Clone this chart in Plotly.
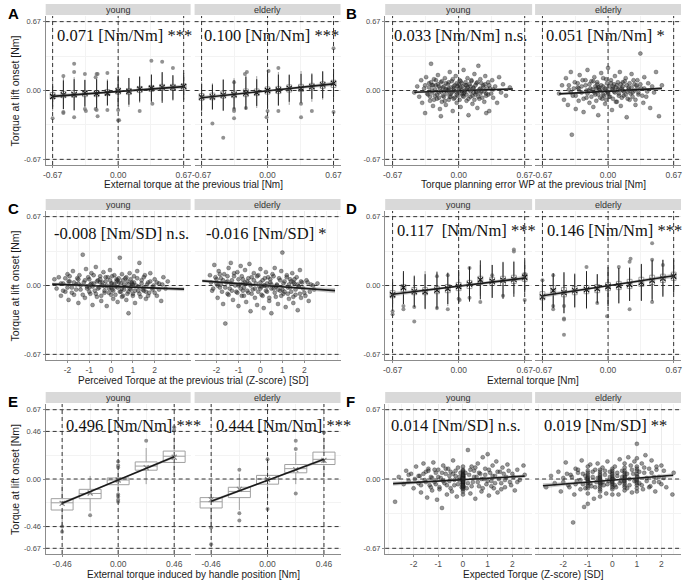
import plotly.graph_objects as go

W, H = 685, 581

# ------------------------------------------------------------------ data
bins13 = [-0.67, -0.56, -0.45, -0.34, -0.22, -0.11, 0.0, 0.11, 0.22, 0.34, 0.45, 0.56, 0.67]
bins5 = [-0.46, -0.23, 0.0, 0.23, 0.46]

# Panel A (previous external torque)
A_y_mean = [-0.058, -0.042, -0.040, -0.026, -0.030, -0.024, -0.004, -0.008, 0.013, 0.022, 0.030, 0.030, 0.040]
A_y_sd = [0.10, 0.14, 0.15, 0.13, 0.14, 0.12, 0.15, 0.13, 0.12, 0.13, 0.15, 0.12, 0.13]
A_y_med = [-0.050, -0.040, -0.035, -0.030, -0.030, -0.020, -0.005, -0.010, 0.010, 0.020, 0.030, 0.030, 0.035]
A_y_q1 = [-0.080, -0.070, -0.065, -0.060, -0.060, -0.050, -0.035, -0.040, -0.020, -0.010, 0.000, 0.000, 0.005]
A_y_q3 = [-0.020, -0.010, 0.000, 0.000, 0.000, 0.010, 0.025, 0.020, 0.040, 0.050, 0.060, 0.060, 0.065]
A_y_lo = [-0.20, -0.18, -0.20, -0.16, -0.17, -0.15, -0.15, -0.16, -0.12, -0.12, -0.10, -0.10, -0.08]
A_y_hi = [0.10, 0.13, 0.13, 0.10, 0.12, 0.11, 0.14, 0.12, 0.14, 0.16, 0.17, 0.14, 0.15]
A_y_out = [(-0.67, -0.27), (-0.56, 0.14), (-0.56, -0.21), (-0.56, -0.22), (-0.45, 0.26), (-0.45, 0.18),
           (-0.45, -0.26), (-0.34, 0.16), (-0.34, -0.18), (-0.33, -0.20), (-0.23, 0.13), (-0.22, 0.16),
           (-0.21, 0.16), (-0.23, -0.18), (-0.22, -0.19), (-0.21, -0.25), (-0.11, 0.17), (-0.11, -0.19),
           (0.0, -0.29), (0.01, -0.29), (0.0, -0.19), (0.22, -0.20), (0.34, 0.29), (0.35, -0.13),
           (0.45, 0.28), (0.56, 0.22)]
A_y_line = [-0.057, 0.038]

A_e_mean = [-0.065, -0.062, -0.045, -0.040, -0.025, -0.020, 0.000, 0.005, 0.020, 0.022, 0.038, 0.055, 0.070]
A_e_sd = [0.13, 0.12, 0.15, 0.14, 0.16, 0.13, 0.17, 0.15, 0.13, 0.14, 0.12, 0.13, 0.14]
A_e_med = [-0.060, -0.055, -0.040, -0.035, -0.020, -0.015, 0.000, 0.005, 0.020, 0.025, 0.035, 0.050, 0.065]
A_e_q1 = [-0.095, -0.090, -0.075, -0.070, -0.060, -0.050, -0.035, -0.030, -0.015, -0.010, 0.005, 0.020, 0.030]
A_e_q3 = [-0.030, -0.025, -0.005, -0.005, 0.015, 0.015, 0.035, 0.040, 0.055, 0.060, 0.070, 0.085, 0.100]
A_e_lo = [-0.21, -0.19, -0.20, -0.19, -0.18, -0.17, -0.17, -0.15, -0.14, -0.13, -0.11, -0.09, -0.08]
A_e_hi = [0.08, 0.07, 0.11, 0.12, 0.15, 0.14, 0.17, 0.18, 0.16, 0.19, 0.17, 0.19, 0.20]
A_e_out = [(-0.56, -0.32), (-0.45, -0.46), (-0.34, 0.08), (-0.34, -0.18), (-0.34, -0.20), (-0.34, -0.27),
           (-0.23, 0.16), (-0.21, 0.18), (-0.22, -0.17), (0.01, 0.19), (0.0, -0.20), (-0.01, -0.26),
           (0.11, 0.22), (0.11, -0.20), (0.34, -0.13), (0.34, -0.26), (0.45, -0.20), (0.67, 0.41),
           (0.67, -0.21)]
A_e_line = [-0.070, 0.064]

# Panel D (current external torque)
D_y_mean = [-0.090, -0.020, -0.060, -0.060, -0.045, -0.030, -0.010, 0.013, 0.055, 0.040, 0.050, 0.060, 0.080]
D_y_sd = [0.12, 0.16, 0.15, 0.17, 0.18, 0.15, 0.16, 0.17, 0.19, 0.16, 0.18, 0.17, 0.15]
D_y_med = [-0.085, -0.025, -0.055, -0.055, -0.045, -0.030, -0.010, 0.010, 0.050, 0.040, 0.045, 0.060, 0.075]
D_y_q1 = [-0.12, -0.06, -0.09, -0.09, -0.08, -0.07, -0.05, -0.03, 0.01, 0.00, 0.00, 0.02, 0.04]
D_y_q3 = [-0.05, 0.01, -0.02, -0.02, -0.01, 0.01, 0.03, 0.05, 0.09, 0.08, 0.09, 0.10, 0.12]
D_y_lo = [-0.22, -0.18, -0.20, -0.22, -0.24, -0.20, -0.17, -0.12, -0.10, -0.12, -0.10, -0.08, -0.06]
D_y_hi = [0.05, 0.12, 0.10, 0.14, 0.12, 0.13, 0.15, 0.16, 0.20, 0.20, 0.22, 0.24, 0.25]
D_y_out = [(-0.67, -0.25), (-0.67, -0.28), (-0.56, -0.20), (-0.56, -0.23), (-0.45, -0.35), (-0.45, -0.21),
           (-0.22, -0.22), (-0.22, 0.09), (-0.11, -0.23), (-0.11, 0.10), (0.0, -0.13), (0.01, -0.14),
           (0.11, 0.17), (0.11, -0.12), (0.22, -0.16), (0.34, 0.10), (0.45, -0.10), (0.56, 0.35),
           (0.56, 0.33), (0.67, -0.14), (0.67, 0.11)]
D_y_line = [-0.085, 0.072]

D_e_mean = [-0.110, -0.050, -0.070, -0.050, -0.040, -0.030, -0.010, 0.000, 0.010, 0.030, 0.050, 0.070, 0.090]
D_e_sd = [0.13, 0.17, 0.20, 0.16, 0.18, 0.14, 0.19, 0.17, 0.16, 0.18, 0.20, 0.18, 0.16]
D_e_med = [-0.100, -0.045, -0.065, -0.050, -0.040, -0.030, -0.010, 0.000, 0.015, 0.030, 0.050, 0.070, 0.090]
D_e_q1 = [-0.14, -0.09, -0.11, -0.09, -0.08, -0.07, -0.05, -0.04, -0.03, -0.01, 0.01, 0.03, 0.05]
D_e_q3 = [-0.06, 0.00, -0.02, -0.01, 0.00, 0.01, 0.03, 0.04, 0.06, 0.08, 0.10, 0.11, 0.13]
D_e_lo = [-0.25, -0.22, -0.27, -0.22, -0.23, -0.18, -0.22, -0.18, -0.15, -0.14, -0.13, -0.10, -0.07]
D_e_hi = [0.03, 0.10, 0.12, 0.12, 0.13, 0.11, 0.16, 0.17, 0.18, 0.20, 0.24, 0.25, 0.26]
D_e_out = [(-0.67, 0.05), (-0.56, -0.20), (-0.56, -0.23), (-0.56, 0.10), (-0.45, -0.32), (-0.45, -0.20),
           (-0.45, -0.48), (-0.45, -0.33), (-0.22, 0.18), (-0.11, -0.17), (-0.01, -0.30), (0.11, 0.18),
           (0.22, -0.23), (0.22, 0.23), (0.23, 0.26), (0.45, 0.41), (0.45, 0.25), (0.45, -0.16),
           (0.56, 0.20)]
D_e_line = [-0.100, 0.095]

# Panel E (handle position)
E_y_mean = [-0.235, -0.135, -0.010, 0.110, 0.210]
E_y_med = [-0.23, -0.14, -0.01, 0.125, 0.22]
E_y_q1 = [-0.30, -0.19, -0.055, 0.085, 0.16]
E_y_q3 = [-0.19, -0.10, 0.01, 0.165, 0.27]
E_y_lo = [-0.44, -0.31, -0.13, -0.05, 0.04]
E_y_hi = [-0.06, 0.03, 0.10, 0.30, 0.40]
E_y_out = [(-0.46, -0.46), (-0.46, -0.51), (-0.23, -0.35), (0.0, 0.17), (0.0, 0.13), (0.0, 0.11),
           (0.0, -0.15), (0.0, -0.17), (0.0, -0.20), (0.0, -0.22), (0.23, 0.37), (0.46, 0.47), (0.46, 0.50)]
E_y_line = [-0.235, 0.215]

E_e_mean = [-0.200, -0.100, -0.005, 0.090, 0.180]
E_e_med = [-0.22, -0.12, 0.0, 0.10, 0.19]
E_e_q1 = [-0.28, -0.18, -0.05, 0.06, 0.14]
E_e_q3 = [-0.18, -0.08, 0.035, 0.14, 0.26]
E_e_lo = [-0.44, -0.30, -0.20, -0.05, 0.03]
E_e_hi = [-0.06, 0.05, 0.17, 0.26, 0.40]
E_e_out = [(-0.46, -0.47), (-0.46, -0.63), (-0.23, 0.09), (-0.23, -0.33), (-0.23, -0.40), (0.0, 0.19),
           (0.0, -0.29), (0.23, 0.29), (0.23, 0.37), (0.23, -0.14), (0.46, 0.45)]
E_e_line = [-0.215, 0.190]

# Panel B (torque planning error at previous trial) - clouds: spread + dense core
B_y_pts = [(-0.45, -0.02), (-0.42, 0.04), (-0.40, -0.06), (-0.38, 0.10), (-0.37, -0.12), (-0.35, 0.02),
           (-0.34, -0.22), (-0.33, 0.13), (-0.31, -0.04), (-0.30, 0.07), (-0.29, -0.10), (-0.28, 0.26),
           (-0.27, 0.00), (-0.26, -0.15), (-0.25, 0.11), (-0.24, -0.05), (-0.23, 0.05), (-0.22, -0.08),
           (-0.21, 0.15), (-0.20, -0.02), (-0.19, -0.18), (-0.18, 0.08), (-0.17, -0.11), (-0.16, 0.03),
           (-0.15, -0.06), (-0.14, 0.12), (-0.13, -0.14), (-0.12, 0.01), (-0.11, 0.06), (-0.10, -0.09),
           (-0.09, 0.18), (-0.08, -0.03), (-0.07, 0.09), (-0.06, -0.20), (-0.05, 0.02), (-0.04, -0.07),
           (-0.03, 0.14), (-0.02, -0.12), (-0.01, 0.04), (0.00, -0.01), (0.01, 0.10), (0.02, -0.16),
           (0.03, 0.07), (0.04, -0.05), (0.05, 0.20), (0.06, -0.02), (0.07, 0.05), (0.08, -0.10),
           (0.09, 0.12), (0.10, -0.24), (0.11, 0.01), (0.12, -0.06), (0.13, 0.09), (0.14, -0.13),
           (0.15, 0.03), (0.16, 0.16), (0.17, -0.04), (0.18, 0.07), (0.19, -0.17), (0.20, 0.24),
           (0.21, -0.08), (0.22, 0.11), (0.23, -0.01), (0.25, 0.05), (0.26, -0.11), (0.27, 0.14),
           (0.28, -0.03), (0.30, 0.08), (0.31, -0.20), (0.32, 0.02), (0.34, 0.10), (0.35, -0.07),
           (0.37, 0.04), (0.39, -0.12), (0.41, 0.13), (0.43, -0.02), (0.45, 0.06), (0.48, -0.05),
           (0.52, 0.03), (-0.05, 0.00), (0.02, 0.03), (-0.10, 0.02), (0.05, -0.03), (0.12, 0.04),
           (-0.15, -0.01), (0.00, 0.06), (-0.02, -0.04), (0.08, 0.01), (-0.20, 0.04), (0.18, -0.01),
           (-0.08, -0.06), (0.22, 0.02), (-0.27, 0.05), (0.30, -0.04), (-0.18, -0.25), (0.28, -0.22)]
B_y_core = [(-0.30, 0.03), (-0.29, -0.06), (-0.28, 0.08), (-0.27, -0.02), (-0.26, 0.05), (-0.25, -0.09),
            (-0.24, 0.01), (-0.23, 0.10), (-0.22, -0.04), (-0.21, 0.06), (-0.20, -0.07), (-0.19, 0.02),
            (-0.18, -0.01), (-0.17, 0.09), (-0.16, -0.05), (-0.15, 0.04), (-0.14, -0.10), (-0.13, 0.07),
            (-0.12, -0.03), (-0.11, 0.00), (-0.10, 0.08), (-0.09, -0.06), (-0.08, 0.03), (-0.07, -0.02),
            (-0.06, 0.11), (-0.05, -0.08), (-0.04, 0.05), (-0.03, -0.01), (-0.02, 0.07), (-0.01, -0.05),
            (0.00, 0.02), (0.01, -0.09), (0.02, 0.09), (0.03, -0.03), (0.04, 0.04), (0.05, -0.06),
            (0.06, 0.00), (0.07, 0.08), (0.08, -0.04), (0.09, 0.03), (0.10, -0.08), (0.11, 0.06),
            (0.12, -0.01), (0.13, 0.10), (0.14, -0.05), (0.15, 0.02), (0.16, -0.09), (0.17, 0.05),
            (0.18, -0.02), (0.19, 0.08), (0.20, -0.06), (0.21, 0.01), (0.22, -0.03), (0.23, 0.07),
            (0.24, -0.07), (0.25, 0.03), (0.26, -0.01), (0.27, 0.06), (0.28, -0.05), (0.29, 0.02),
            (0.31, 0.05), (0.33, -0.03), (0.35, 0.01), (-0.32, -0.03), (-0.34, 0.05), (-0.05, 0.04),
            (0.03, 0.00), (-0.13, 0.01), (0.15, -0.02), (0.08, 0.05)]
B_y_line_x = [-0.45, 0.55]
B_y_line = [-0.017, 0.015]

B_e_pts = [(-0.50, -0.03), (-0.47, 0.05), (-0.45, -0.09), (-0.43, 0.12), (-0.41, -0.14), (-0.40, 0.01),
           (-0.38, 0.18), (-0.37, -0.43), (-0.36, -0.05), (-0.34, 0.08), (-0.33, -0.18), (-0.31, 0.03),
           (-0.30, -0.10), (-0.29, 0.15), (-0.27, -0.02), (-0.26, 0.10), (-0.25, -0.21), (-0.23, 0.05),
           (-0.22, -0.07), (-0.21, 0.20), (-0.19, -0.12), (-0.18, 0.02), (-0.17, 0.09), (-0.15, -0.16),
           (-0.14, 0.13), (-0.13, -0.04), (-0.11, 0.06), (-0.10, -0.24), (-0.09, 0.01), (-0.07, 0.17),
           (-0.06, -0.08), (-0.05, 0.04), (-0.03, -0.13), (-0.02, 0.11), (-0.01, -0.01), (0.00, 0.22),
           (0.01, -0.06), (0.03, 0.07), (0.04, -0.19), (0.05, 0.02), (0.07, 0.14), (0.08, -0.11),
           (0.09, 0.05), (0.11, -0.03), (0.12, 0.18), (0.13, -0.15), (0.15, 0.08), (0.16, -0.05),
           (0.18, 0.12), (0.19, -0.26), (0.21, 0.03), (0.22, -0.09), (0.24, 0.16), (0.25, -0.02),
           (0.27, 0.06), (0.28, -0.14), (0.30, 0.10), (0.31, -0.04), (0.33, 0.36), (0.34, 0.02),
           (0.36, -0.12), (0.37, 0.13), (0.39, -0.06), (0.41, 0.07), (0.43, -0.17), (0.45, 0.04),
           (0.47, -0.02), (0.49, 0.18), (0.52, -0.25), (0.55, 0.05), (-0.20, 0.00), (-0.10, 0.03),
           (0.00, -0.02), (0.10, 0.01), (0.20, -0.01), (0.30, 0.03), (-0.30, 0.02), (0.05, 0.04),
           (-0.05, -0.04), (0.15, 0.00)]
B_e_core = [(-0.35, 0.02), (-0.33, -0.05), (-0.31, 0.07), (-0.29, -0.01), (-0.27, 0.04), (-0.25, -0.08),
            (-0.23, 0.10), (-0.21, -0.03), (-0.19, 0.06), (-0.17, -0.06), (-0.16, 0.01), (-0.15, 0.09),
            (-0.14, -0.02), (-0.13, 0.04), (-0.12, -0.10), (-0.11, 0.08), (-0.10, -0.04), (-0.09, 0.03),
            (-0.08, -0.07), (-0.07, 0.05), (-0.06, 0.00), (-0.05, 0.12), (-0.04, -0.05), (-0.03, 0.02),
            (-0.02, -0.09), (-0.01, 0.07), (0.00, -0.03), (0.01, 0.04), (0.02, -0.06), (0.03, 0.10),
            (0.04, 0.01), (0.05, -0.08), (0.06, 0.06), (0.07, -0.02), (0.08, 0.03), (0.09, -0.11),
            (0.10, 0.08), (0.11, -0.05), (0.12, 0.02), (0.13, 0.06), (0.14, -0.07), (0.15, 0.04),
            (0.16, -0.01), (0.17, 0.09), (0.18, -0.04), (0.19, 0.05), (0.20, -0.08), (0.21, 0.01),
            (0.22, 0.07), (0.23, -0.03), (0.24, 0.03), (0.25, -0.06), (0.26, 0.10), (0.27, 0.00),
            (0.28, -0.09), (0.29, 0.05), (0.31, -0.02), (0.33, 0.06), (0.35, -0.05), (0.37, 0.02),
            (0.40, -0.01), (-0.38, -0.02), (-0.40, 0.05), (-0.02, 0.01), (0.06, -0.01), (-0.12, 0.02),
            (0.14, 0.02), (-0.22, 0.00)]
B_e_line_x = [-0.50, 0.55]
B_e_line = [-0.033, 0.021]

# Panel C (perceived torque previous trial, z-score)
C_y_pts = [(-2.6, 0.06), (-2.5, -0.03), (-2.4, 0.08), (-2.3, -0.10), (-2.2, 0.02), (-2.1, -0.06), (-2.0, 0.11),
           (-1.95, -0.14), (-1.9, 0.04), (-1.8, -0.02), (-1.75, 0.14), (-1.7, -0.09), (-1.6, 0.01),
           (-1.55, 0.07), (-1.5, -0.17), (-1.45, 0.10), (-1.4, -0.04), (-1.3, 0.30), (-1.25, 0.03),
           (-1.2, -0.12), (-1.15, 0.16), (-1.1, -0.01), (-1.0, 0.06), (-0.95, -0.08), (-0.9, 0.12),
           (-0.85, -0.19), (-0.8, 0.02), (-0.75, -0.05), (-0.7, 0.18), (-0.65, -0.11), (-0.6, 0.05),
           (-0.55, -0.02), (-0.5, 0.09), (-0.45, -0.15), (-0.4, 0.00), (-0.35, 0.13), (-0.3, -0.07),
           (-0.25, 0.04), (-0.2, -0.20), (-0.15, 0.08), (-0.1, -0.03), (-0.05, 0.15), (0.0, -0.09),
           (0.05, 0.02), (0.1, -0.13), (0.15, 0.10), (0.2, -0.01), (0.25, 0.06), (0.3, -0.16), (0.35, 0.03),
           (0.4, 0.27), (0.45, -0.06), (0.5, 0.11), (0.55, -0.10), (0.6, 0.01), (0.65, 0.07), (0.7, -0.14),
           (0.75, 0.04), (0.8, -0.27), (0.85, 0.12), (0.9, -0.04), (0.95, 0.02), (1.0, -0.08), (1.05, 0.09),
           (1.1, -0.17), (1.15, 0.00), (1.2, 0.14), (1.25, -0.05), (1.3, 0.22), (1.35, -0.11), (1.4, 0.05),
           (1.5, -0.02), (1.55, 0.10), (1.6, -0.13), (1.7, 0.03), (1.75, -0.07), (1.8, 0.12), (1.9, -0.04),
           (2.0, 0.06), (2.1, -0.10), (2.2, 0.02), (2.3, -0.15), (2.4, 0.08), (2.5, -0.03), (2.6, 0.04),
           (-1.0, -0.02), (-0.5, 0.03), (0.0, 0.02), (0.5, -0.03), (1.0, 0.01), (-1.5, 0.02), (1.5, -0.05),
           (-0.3, -0.01), (0.3, 0.05), (0.8, -0.06)]
C_y_core = [(-2.3, 0.02), (-2.2, -0.05), (-2.1, 0.07), (-2.0, -0.02), (-1.9, 0.09), (-1.8, -0.07), (-1.7, 0.03),
            (-1.6, -0.04), (-1.5, 0.06), (-1.4, 0.00), (-1.3, -0.09), (-1.2, 0.05), (-1.1, -0.03), (-1.05, 0.08),
            (-1.0, -0.06), (-0.9, 0.02), (-0.85, -0.01), (-0.8, 0.10), (-0.7, -0.08), (-0.65, 0.04),
            (-0.6, -0.03), (-0.5, 0.06), (-0.45, -0.10), (-0.4, 0.03), (-0.3, -0.05), (-0.25, 0.08),
            (-0.2, 0.00), (-0.1, -0.07), (-0.05, 0.05), (0.0, -0.02), (0.05, 0.09), (0.1, -0.05), (0.15, 0.01),
            (0.2, -0.09), (0.25, 0.04), (0.3, -0.02), (0.35, 0.07), (0.4, -0.06), (0.45, 0.02), (0.5, -0.11),
            (0.55, 0.05), (0.6, -0.04), (0.7, 0.08), (0.75, -0.08), (0.8, 0.01), (0.85, -0.03), (0.9, 0.06),
            (1.0, -0.10), (1.05, 0.03), (1.1, -0.05), (1.2, 0.07), (1.25, -0.01), (1.3, -0.08), (1.4, 0.02),
            (1.45, -0.04), (1.5, 0.08), (1.6, -0.06), (1.65, 0.01), (1.7, -0.10), (1.8, 0.04), (1.9, -0.02),
            (2.0, -0.07), (2.1, 0.03), (2.2, -0.04), (2.35, 0.01), (-1.95, 0.04), (-0.95, 0.01), (0.05, -0.04),
            (0.95, 0.03), (1.95, 0.00)]
C_y_line_x = [-2.7, 3.35]
C_y_line = [0.013, -0.035]

C_e_pts = [(-2.3, 0.10), (-2.2, -0.05), (-2.1, 0.20), (-2.0, 0.02), (-1.95, -0.12), (-1.9, 0.14),
           (-1.85, -0.02), (-1.8, 0.07), (-1.7, -0.18), (-1.65, 0.11), (-1.6, -0.37), (-1.55, 0.03),
           (-1.5, -0.08), (-1.45, 0.17), (-1.4, -0.03), (-1.35, 0.22), (-1.3, 0.05), (-1.25, -0.14),
           (-1.2, 0.09), (-1.1, -0.06), (-1.05, 0.13), (-1.0, -0.20), (-0.95, 0.01), (-0.9, 0.19),
           (-0.85, -0.10), (-0.8, 0.06), (-0.75, -0.02), (-0.7, 0.15), (-0.65, -0.16), (-0.6, 0.04),
           (-0.55, -0.07), (-0.5, 0.21), (-0.45, -0.25), (-0.4, 0.08), (-0.35, -0.04), (-0.3, 0.12),
           (-0.25, -0.12), (-0.2, 0.02), (-0.15, -0.19), (-0.1, 0.10), (-0.05, -0.01), (0.0, 0.16),
           (0.05, -0.09), (0.1, 0.05), (0.15, -0.22), (0.2, 0.00), (0.25, 0.13), (0.3, -0.06), (0.35, 0.08),
           (0.4, -0.15), (0.45, 0.03), (0.5, -0.27), (0.55, 0.11), (0.6, -0.03), (0.65, 0.17), (0.7, -0.11),
           (0.75, 0.01), (0.8, -0.18), (0.85, 0.07), (0.9, -0.05), (0.95, 0.14), (1.0, 0.32), (1.05, -0.08),
           (1.1, 0.04), (1.15, -0.21), (1.2, 0.10), (1.25, -0.02), (1.3, -0.13), (1.35, 0.06), (1.4, -0.06),
           (1.45, 0.12), (1.5, -0.17), (1.55, 0.02), (1.6, -0.09), (1.65, 0.08), (1.7, -0.24), (1.75, -0.01),
           (1.8, 0.15), (1.85, -0.12), (1.9, 0.03), (2.0, -0.07), (2.1, 0.05), (2.2, -0.15), (2.3, 0.01),
           (2.45, -0.04), (2.6, 0.02), (-1.5, 0.04), (-1.0, 0.00), (-0.5, 0.02), (0.0, -0.03), (0.5, 0.01),
           (1.0, -0.04), (1.5, 0.03), (-2.0, 0.06), (0.3, -0.01), (-0.8, -0.05)]
C_e_core = [(-2.25, 0.03), (-2.15, -0.03), (-2.05, 0.08), (-1.95, 0.00), (-1.85, 0.11), (-1.75, -0.06),
            (-1.7, 0.05), (-1.6, -0.02), (-1.5, 0.09), (-1.45, -0.09), (-1.35, 0.02), (-1.3, -0.05),
            (-1.2, 0.12), (-1.15, 0.00), (-1.05, -0.07), (-1.0, 0.06), (-0.9, -0.03), (-0.85, 0.09),
            (-0.75, -0.10), (-0.7, 0.03), (-0.6, -0.05), (-0.55, 0.07), (-0.45, 0.00), (-0.4, -0.08),
            (-0.3, 0.05), (-0.25, -0.03), (-0.15, 0.09), (-0.1, -0.06), (0.0, 0.03), (0.05, -0.01),
            (0.1, -0.10), (0.2, 0.07), (0.25, -0.05), (0.3, 0.02), (0.4, -0.12), (0.45, 0.06), (0.5, -0.03),
            (0.6, 0.09), (0.65, -0.07), (0.75, 0.00), (0.8, -0.04), (0.9, 0.05), (0.95, -0.10), (1.05, 0.02),
            (1.1, -0.06), (1.2, 0.08), (1.25, -0.08), (1.35, -0.02), (1.4, 0.04), (1.5, -0.11), (1.55, 0.06),
            (1.6, -0.04), (1.7, 0.01), (1.8, -0.08), (1.85, 0.04), (1.95, -0.03), (2.05, -0.10), (2.15, 0.03),
            (2.25, -0.06), (2.4, 0.00), (-1.8, 0.01), (-0.8, 0.02), (0.15, 0.00), (0.7, -0.01), (1.3, 0.01),
            (1.75, -0.01)]
C_e_line_x = [-2.65, 3.4]
C_e_line = [0.045, -0.050]

# Panel F (expected torque, z-score)
F_y_pts = [(-2.75, -0.22), (-2.6, 0.02), (-2.4, -0.05), (-2.3, 0.08), (-2.2, -0.02), (-2.1, 0.05), (-2.0, -0.09),
           (-1.9, 0.12), (-1.8, -0.04), (-1.75, 0.03), (-1.7, -0.13), (-1.6, 0.15), (-1.55, -0.01), (-1.5, 0.07),
           (-1.45, -0.18), (-1.4, 0.10), (-1.35, -0.06), (-1.3, 0.02), (-1.25, -0.11), (-1.2, 0.16),
           (-1.15, -0.03), (-1.1, 0.06), (-1.05, -0.20), (-1.0, 0.09), (-0.95, -0.08), (-0.9, 0.01),
           (-0.85, -0.28), (-0.8, 0.13), (-0.75, -0.04), (-0.7, 0.05), (-0.65, -0.15), (-0.6, 0.10),
           (-0.55, -0.02), (-0.5, 0.07), (-0.45, -0.12), (-0.4, 0.18), (-0.35, -0.06), (-0.3, 0.03),
           (-0.25, -0.17), (-0.2, 0.11), (-0.15, -0.01), (-0.1, 0.06),
           (0.0, -0.15), (0.0, -0.12), (0.0, -0.10), (0.0, -0.08), (0.0, -0.06), (0.0, -0.05), (0.0, -0.04),
           (0.0, -0.03), (0.0, -0.02), (0.0, -0.01), (0.0, 0.00), (0.0, 0.01), (0.0, 0.02), (0.0, 0.03),
           (0.0, 0.04), (0.0, 0.05), (0.0, 0.07), (0.0, 0.09), (0.0, 0.12), (0.02, -0.07), (-0.02, 0.00),
           (0.02, 0.02), (-0.02, -0.04),
           (0.2, 0.28), (0.15, -0.09), (0.25, 0.04), (0.3, -0.14), (0.35, 0.12), (0.4, -0.03), (0.45, 0.08),
           (0.5, -0.19), (0.55, 0.02), (0.6, 0.15), (0.65, -0.07), (0.7, 0.05), (0.75, -0.12), (0.8, 0.21),
           (0.85, 0.00), (0.9, 0.10), (0.95, -0.05), (1.0, 0.24), (1.05, -0.16), (1.1, 0.06), (1.15, -0.02),
           (1.2, 0.13), (1.25, -0.09), (1.3, 0.03), (1.35, 0.17), (1.4, -0.13), (1.5, 0.07), (1.55, -0.04),
           (1.6, 0.11), (1.7, -0.08), (1.75, 0.02), (1.8, 0.14), (1.9, -0.03), (2.0, 0.05), (2.1, -0.11),
           (2.2, 0.09), (2.3, -0.01), (2.45, 0.13), (2.5, 0.04)]
F_y_core = [(-1.8, 0.03), (-1.7, -0.06), (-1.6, 0.05), (-1.5, -0.03), (-1.4, 0.08), (-1.3, -0.08), (-1.25, 0.01),
            (-1.15, 0.09), (-1.1, -0.05), (-1.0, 0.02), (-0.95, -0.10), (-0.85, 0.06), (-0.8, -0.02), (-0.7, 0.10),
            (-0.65, -0.06), (-0.55, 0.03), (-0.5, -0.09), (-0.4, 0.05), (-0.35, -0.01), (-0.3, 0.08),
            (-0.2, -0.05), (-0.15, 0.02), (-0.05, -0.08),
            (0.0, -0.09), (0.0, -0.07), (0.0, -0.045), (0.0, -0.025), (0.0, -0.015), (0.0, -0.005), (0.0, 0.005),
            (0.0, 0.015), (0.0, 0.025), (0.0, 0.035), (0.0, 0.06), (0.0, 0.08), (0.01, -0.03), (-0.01, 0.01),
            (0.01, 0.04), (-0.01, -0.06),
            (0.1, 0.06), (0.2, -0.04), (0.3, 0.09), (0.35, -0.07), (0.45, 0.02), (0.5, 0.11), (0.6, -0.03),
            (0.65, 0.06), (0.75, 0.00), (0.8, -0.09), (0.9, 0.04), (1.0, -0.02), (1.05, 0.09), (1.15, -0.07),
            (1.2, 0.03), (1.3, -0.04), (1.4, 0.07), (1.45, 0.00), (1.55, -0.10), (1.65, 0.05), (1.7, -0.01),
            (1.85, 0.08), (1.95, -0.06), (2.05, 0.02), (2.2, -0.03), (-1.95, 0.00), (-2.2, 0.04)]
F_y_line_x = [-2.83, 2.5]
F_y_line = [-0.045, 0.028]

F_e_pts = [(-2.7, -0.08), (-2.5, 0.03), (-2.35, -0.04), (-2.2, 0.07), (-2.1, -0.12), (-2.0, 0.01), (-1.9, 0.16),
           (-1.8, -0.06), (-1.7, 0.04), (-1.6, -0.42), (-1.55, -0.15), (-1.5, 0.10), (-1.45, -0.02), (-1.4, 0.06),
           (-1.3, -0.10), (-1.25, 0.18), (-1.2, -0.05), (-1.15, -0.27), (-1.1, 0.03),
           (-1.0, -0.14), (-1.0, -0.09), (-1.0, -0.05), (-1.0, -0.02), (-1.0, 0.01), (-1.0, 0.04), (-1.0, 0.08),
           (-1.0, 0.12), (-1.0, -0.24),
           (-0.9, 0.14), (-0.85, -0.07), (-0.8, 0.02), (-0.75, -0.19), (-0.7, 0.09), (-0.65, -0.03), (-0.6, 0.15),
           (-0.5, -0.12), (-0.5, -0.08), (-0.5, -0.04), (-0.5, -0.01), (-0.5, 0.02), (-0.5, 0.05), (-0.5, 0.09),
           (-0.5, -0.17),
           (-0.4, 0.11), (-0.35, -0.06), (-0.3, 0.04), (-0.25, -0.14), (-0.2, 0.17), (-0.15, -0.02), (-0.1, 0.07),
           (0.0, -0.10), (0.0, -0.06), (0.0, -0.03), (0.0, 0.00), (0.0, 0.03), (0.0, 0.06), (0.0, 0.10), (0.0, -0.15),
           (0.1, 0.12), (0.15, -0.08), (0.2, 0.03), (0.25, -0.15), (0.3, 0.19), (0.35, -0.02), (0.4, 0.08),
           (0.5, -0.11), (0.5, -0.06), (0.5, -0.02), (0.5, 0.02), (0.5, 0.06), (0.5, 0.11), (0.5, 0.15),
           (0.6, -0.09), (0.65, 0.21), (0.7, 0.00), (0.75, 0.13), (0.8, -0.13), (0.85, 0.05), (0.9, 0.17),
           (1.0, 0.34), (1.0, -0.12), (1.0, -0.06), (1.0, -0.01), (1.0, 0.03), (1.0, 0.08), (1.0, 0.12), (1.0, 0.20),
           (1.1, -0.04), (1.2, 0.15), (1.25, -0.10), (1.3, 0.06), (1.35, 0.23), (1.4, -0.02), (1.5, 0.10),
           (1.55, -0.07), (1.6, 0.18), (1.7, 0.02), (1.75, -0.12), (1.8, 0.09), (1.9, -0.03), (2.0, 0.13),
           (2.1, 0.01), (2.2, -0.08), (2.45, -0.15), (2.5, 0.06)]
F_e_core = [(-2.0, -0.03), (-1.85, 0.05), (-1.75, -0.08), (-1.65, 0.02), (-1.5, -0.05), (-1.4, 0.09), (-1.3, -0.01),
            (-1.2, 0.05), (-1.1, -0.09),
            (-1.0, -0.07), (-1.0, -0.035), (-1.0, -0.01), (-1.0, 0.02), (-1.0, 0.06), (-0.98, -0.03), (-1.02, 0.00),
            (-0.9, -0.04), (-0.8, 0.07), (-0.7, -0.08), (-0.6, 0.01),
            (-0.5, -0.10), (-0.5, -0.06), (-0.5, -0.025), (-0.5, 0.00), (-0.5, 0.035), (-0.5, 0.07), (-0.48, -0.04),
            (-0.52, 0.01),
            (-0.4, -0.03), (-0.3, 0.08), (-0.2, -0.05), (-0.1, 0.02),
            (0.0, -0.08), (0.0, -0.045), (0.0, -0.015), (0.0, 0.015), (0.0, 0.045), (0.0, 0.08), (0.02, 0.00),
            (-0.02, -0.03),
            (0.1, -0.06), (0.2, 0.06), (0.3, -0.04), (0.4, 0.02),
            (0.5, -0.08), (0.5, -0.04), (0.5, 0.00), (0.5, 0.04), (0.5, 0.08), (0.52, 0.02), (0.48, -0.02),
            (0.6, 0.05), (0.7, -0.06), (0.8, 0.09), (0.9, -0.02),
            (1.0, -0.09), (1.0, -0.04), (1.0, 0.00), (1.0, 0.05), (1.0, 0.10), (1.02, 0.02), (0.98, -0.02),
            (1.1, 0.07), (1.2, -0.06), (1.3, 0.11), (1.4, 0.01), (1.5, -0.08), (1.6, 0.06), (1.7, -0.03),
            (1.8, 0.12), (1.9, 0.02), (2.0, -0.05), (2.1, 0.08)]
F_e_line_x = [-2.83, 2.48]
F_e_line = [-0.065, 0.036]

# texts
slope_texts = {
    "A": ["0.071 [Nm/Nm] ***", "0.100 [Nm/Nm] ***"],
    "B": ["0.033 [Nm/Nm] n.s.", "0.051 [Nm/Nm] *"],
    "C": ["-0.008 [Nm/SD] n.s.", "-0.016 [Nm/SD] *"],
    "D": ["0.117  [Nm/Nm] ***", "0.146 [Nm/Nm] ***"],
    "E": ["0.496 [Nm/Nm] ***", "0.444 [Nm/Nm] ***"],
    "F": ["0.014 [Nm/SD] n.s.", "0.019 [Nm/SD] **"],
}
x_titles = {
    "A": "External torque at the previous trial [Nm]",
    "B": "Torque planning error WP at the previous trial [Nm]",
    "C": "Perceived Torque at the previous trial (Z-score) [SD]",
    "D": "External torque [Nm]",
    "E": "External torque induced by handle position [Nm]",
    "F": "Expected Torque (Z-score) [SD]",
}
y_title = "Torque at lift onset [Nm]"
facets = ["young", "elderly"]

tick67 = [-0.67, 0.0, 0.67]
tick67_txt = ["-0.67", "0.00", "0.67"]
tick46 = [-0.46, 0.0, 0.46]
tick46_txt = ["-0.46", "0.00", "0.46"]
tickE_y = [-0.67, -0.46, 0.0, 0.46, 0.67]
tickE_y_txt = ["-0.67", "-0.46", "0.00", "0.46", "0.67"]
tickZ = [-2, -1, 0, 1, 2]
tickZ_txt = ["-2", "-1", "0", "1", "2"]

# ------------------------------------------------------------------ layout geometry (pixels)
ROWS = {1: dict(top=16, bot=165, s0=4, s1=15, xt=185),
        2: dict(top=211, bot=360, s0=199, s1=210, xt=380),
        3: dict(top=404, bot=554, s0=392, s1=403, xt=574)}
COLS = {"L": [(43, 189), (193, 340)], "R": [(385, 533), (536, 683)]}

SANS = "Liberation Sans, Arial, sans-serif"
SERIF = "Liberation Serif, Times New Roman, serif"
GRID = "#ebebeb"
MINOR = "#f3f3f3"
AXL = "#8c8c8c"
DASH = "4px,3px"

PANELS = {
    "A": dict(row=1, col="L", xr=[-0.741, 0.741], xt=tick67, xtt=tick67_txt, xm=[-0.335, 0.335],
              yt=tick67, ytt=tick67_txt, ym=[-0.335, 0.335], vl=tick67, hl=tick67, tx=[9, 7], ty=19),
    "B": dict(row=1, col="R", xr=[-0.745, 0.745], xt=tick67, xtt=tick67_txt, xm=[-0.335, 0.335],
              yt=tick67, ytt=tick67_txt, ym=[-0.335, 0.335], vl=tick67, hl=tick67, tx=[7, 9], ty=19),
    "C": dict(row=2, col="L", xr=[-3.0, 3.65], xt=tickZ, xtt=tickZ_txt,
              xm=[-2.5, -1.5, -0.5, 0.5, 1.5, 2.5, 3.0, 3.5],
              yt=tick67, ytt=tick67_txt, ym=[-0.335, 0.335], vl=[], hl=tick67, tx=[6, 9], ty=22),
    "D": dict(row=2, col="R", xr=[-0.745, 0.745], xt=tick67, xtt=tick67_txt, xm=[-0.335, 0.335],
              yt=tick67, ytt=tick67_txt, ym=[-0.335, 0.335], vl=tick67, hl=tick67, tx=[10, 10], ty=19),
    "E": dict(row=3, col="L", xr=[-0.595, 0.595], xt=tick46, xtt=tick46_txt, xm=[-0.23, 0.23],
              yt=tickE_y, ytt=tickE_y_txt, ym=[-0.23, 0.23], vl=tick46, hl=tickE_y, tx=[18, 20], ty=21),
    "F": dict(row=3, col="R", xr=[-3.15, 2.8], xt=tickZ, xtt=tickZ_txt,
              xm=[-3.0, -2.5, -1.5, -0.5, 0.5, 1.5, 2.5],
              yt=tick67, ytt=tick67_txt, ym=[-0.335, 0.335], vl=[], hl=tick67, tx=[4, 7], ty=21),
}
YR = [-0.725, 0.725]

fig = go.Figure()
shapes = []
annots = []
axis_refs = {}
n_axes = 0

for name, p in PANELS.items():
    r = ROWS[p["row"]]
    for fi, (x0, x1) in enumerate(COLS[p["col"]]):
        n_axes += 1
        sfx = "" if n_axes == 1 else str(n_axes)
        axis_refs[(name, fi)] = ("x" + sfx, "y" + sfx)
        first = fi == 0
        fig.update_layout(**{
            "xaxis" + sfx: dict(domain=[x0 / W, x1 / W], range=p["xr"], anchor="y" + sfx,
                                tickmode="array", tickvals=p["xt"], ticktext=p["xtt"],
                                tickfont=dict(size=8.5, color="#4d4d4d", family=SANS),
                                ticks="outside", ticklen=2, tickcolor=AXL, tickwidth=1,
                                showgrid=True, gridcolor=GRID, gridwidth=1,
                                minor=dict(tickvals=p["xm"], showgrid=True, gridcolor=MINOR, gridwidth=1),
                                showline=True, linecolor=AXL, linewidth=1.3, zeroline=False,
                                fixedrange=True),
            "yaxis" + sfx: dict(domain=[1 - r["bot"] / H, 1 - r["top"] / H], range=YR, anchor="x" + sfx,
                                tickmode="array", tickvals=p["yt"], ticktext=p["ytt"],
                                showticklabels=first,
                                tickfont=dict(size=7.5, color="#4d4d4d", family=SANS),
                                ticks="outside" if first else "", ticklen=2, tickcolor=AXL, tickwidth=1,
                                showgrid=True, gridcolor=GRID, gridwidth=1,
                                minor=dict(tickvals=p["ym"], showgrid=True, gridcolor=MINOR, gridwidth=1),
                                showline=first, linecolor=AXL, linewidth=1.3, zeroline=False,
                                fixedrange=True),
        })
        xa, ya = "x" + sfx, "y" + sfx
        for v in p["hl"]:
            shapes.append(dict(type="line", xref=xa + " domain", yref=ya, x0=0, x1=1, y0=v, y1=v,
                               line=dict(color="#333333", width=1, dash=DASH), layer="above"))
        for v in p["vl"]:
            shapes.append(dict(type="line", xref=xa, yref=ya + " domain", x0=v, x1=v, y0=0, y1=1,
                               line=dict(color="#333333", width=1, dash=DASH), layer="above"))
        shapes.append(dict(type="rect", xref="paper", yref="paper", x0=x0 / W, x1=x1 / W,
                           y0=1 - r["s1"] / H, y1=1 - r["s0"] / H, fillcolor="#d9d9d9",
                           line=dict(width=0), layer="below"))
        annots.append(dict(x=(x0 + x1) / 2 / W, y=1 - (r["s0"] + r["s1"]) / 2 / H, xref="paper", yref="paper",
                           text=facets[fi], showarrow=False, xanchor="center", yanchor="middle",
                           font=dict(size=9, color="#333333", family=SANS)))
        annots.append(dict(x=p["tx"][fi] / (x1 - x0), y=1 - p["ty"] / (r["bot"] - r["top"]),
                           xref=xa + " domain", yref=ya + " domain", text=slope_texts[name][fi],
                           showarrow=False, xanchor="left", yanchor="middle",
                           font=dict(size=16.5, color="#111111", family=SERIF)))
    lx = 3 if p["col"] == "L" else 344
    annots.append(dict(x=lx / W, y=1 - (r["s0"] - 1) / H, xref="paper", yref="paper", text="<b>%s</b>" % name,
                       showarrow=False, xanchor="left", yanchor="top",
                       font=dict(size=15, color="black", family=SANS)))
    cx = (COLS[p["col"]][0][0] + COLS[p["col"]][1][1]) / 2
    annots.append(dict(x=cx / W, y=1 - r["xt"] / H, xref="paper", yref="paper", text=x_titles[name],
                       showarrow=False, xanchor="center", yanchor="middle",
                       font=dict(size=10, color="#1a1a1a", family=SANS)))
    if p["col"] == "L":
        annots.append(dict(x=12 / W, y=1 - (r["top"] + r["bot"]) / 2 / H, xref="paper", yref="paper",
                           text=y_title, textangle=-90, showarrow=False, xanchor="center", yanchor="middle",
                           font=dict(size=10.5, color="#1a1a1a", family=SANS)))

BAND = "rgba(140,140,140,0.45)"


def add_fit(ax, xs, ys, half):
    xa, ya = ax
    xm = (xs[0] + xs[1]) / 2
    ym = (ys[0] + ys[1]) / 2
    bx = [xs[0], xm, xs[1], xs[1], xm, xs[0], xs[0]]
    by = [ys[0] - half[0], ym - half[1], ys[1] - half[2], ys[1] + half[2], ym + half[1], ys[0] + half[0],
          ys[0] - half[0]]
    fig.add_trace(go.Scatter(x=bx, y=by, xaxis=xa, yaxis=ya, mode="lines", fill="toself", fillcolor=BAND,
                             line=dict(width=0), hoverinfo="skip", showlegend=False))
    fig.add_trace(go.Scatter(x=xs, y=ys, xaxis=xa, yaxis=ya, mode="lines",
                             line=dict(color="#1a1a1a", width=1.6), showlegend=False))


def add_boxes(ax, xs, med, q1, q3, lo, hi, width, mean, sd, out, mean_col):
    xa, ya = ax
    fig.add_trace(go.Box(x=xs, median=med, q1=q1, q3=q3, lowerfence=lo, upperfence=hi, xaxis=xa, yaxis=ya,
                         width=width, boxpoints=False, fillcolor="rgba(255,255,255,0.35)",
                         line=dict(color="#a0a0a0", width=1), whiskerwidth=0, showlegend=False))
    fig.add_trace(go.Scatter(x=[o[0] for o in out], y=[o[1] for o in out], xaxis=xa, yaxis=ya, mode="markers",
                             marker=dict(size=4, color="rgba(110,110,110,0.75)"), showlegend=False))
    err = dict(type="data", array=sd, visible=True, width=0, thickness=1, color="#222222") if sd else None
    fig.add_trace(go.Scatter(x=xs, y=mean, xaxis=xa, yaxis=ya, mode="markers",
                             marker=dict(symbol="x-thin", size=5, line=dict(width=1.2, color=mean_col)),
                             error_y=err, showlegend=False))


def add_cloud(ax, pts, core):
    xa, ya = ax
    allp = pts + core
    fig.add_trace(go.Scatter(x=[q[0] for q in allp], y=[q[1] for q in allp], xaxis=xa, yaxis=ya,
                             mode="markers",
                             marker=dict(size=4, color="rgba(45,45,45,0.5)",
                                         line=dict(width=0.5, color="rgba(15,15,15,0.55)")),
                             showlegend=False))


add_boxes(axis_refs[("A", 0)], bins13, A_y_med, A_y_q1, A_y_q3, A_y_lo, A_y_hi, 0.05, A_y_mean, A_y_sd, A_y_out, "#111")
add_fit(axis_refs[("A", 0)], [-0.67, 0.67], A_y_line, [0.02, 0.008, 0.02])
add_boxes(axis_refs[("A", 1)], bins13, A_e_med, A_e_q1, A_e_q3, A_e_lo, A_e_hi, 0.05, A_e_mean, A_e_sd, A_e_out, "#111")
add_fit(axis_refs[("A", 1)], [-0.67, 0.67], A_e_line, [0.02, 0.008, 0.02])
add_cloud(axis_refs[("B", 0)], B_y_pts, B_y_core)
add_fit(axis_refs[("B", 0)], B_y_line_x, B_y_line, [0.012, 0.005, 0.012])
add_cloud(axis_refs[("B", 1)], B_e_pts, B_e_core)
add_fit(axis_refs[("B", 1)], B_e_line_x, B_e_line, [0.012, 0.005, 0.012])
add_cloud(axis_refs[("C", 0)], C_y_pts, C_y_core)
add_fit(axis_refs[("C", 0)], C_y_line_x, C_y_line, [0.015, 0.005, 0.02])
add_cloud(axis_refs[("C", 1)], C_e_pts, C_e_core)
add_fit(axis_refs[("C", 1)], C_e_line_x, C_e_line, [0.015, 0.005, 0.025])
add_boxes(axis_refs[("D", 0)], bins13, D_y_med, D_y_q1, D_y_q3, D_y_lo, D_y_hi, 0.05, D_y_mean, D_y_sd, D_y_out, "#111")
add_fit(axis_refs[("D", 0)], [-0.67, 0.67], D_y_line, [0.022, 0.008, 0.022])
add_boxes(axis_refs[("D", 1)], bins13, D_e_med, D_e_q1, D_e_q3, D_e_lo, D_e_hi, 0.05, D_e_mean, D_e_sd, D_e_out, "#111")
add_fit(axis_refs[("D", 1)], [-0.67, 0.67], D_e_line, [0.022, 0.008, 0.022])
add_boxes(axis_refs[("E", 0)], bins5, E_y_med, E_y_q1, E_y_q3, E_y_lo, E_y_hi, 0.18, E_y_mean, None, E_y_out, "#888")
add_fit(axis_refs[("E", 0)], [-0.46, 0.46], E_y_line, [0.015, 0.006, 0.015])
add_boxes(axis_refs[("E", 1)], bins5, E_e_med, E_e_q1, E_e_q3, E_e_lo, E_e_hi, 0.18, E_e_mean, None, E_e_out, "#888")
add_fit(axis_refs[("E", 1)], [-0.46, 0.46], E_e_line, [0.015, 0.006, 0.015])
add_cloud(axis_refs[("F", 0)], F_y_pts, F_y_core)
add_fit(axis_refs[("F", 0)], F_y_line_x, F_y_line, [0.02, 0.006, 0.015])
add_cloud(axis_refs[("F", 1)], F_e_pts, F_e_core)
add_fit(axis_refs[("F", 1)], F_e_line_x, F_e_line, [0.025, 0.006, 0.02])

fig.update_layout(width=W, height=H, margin=dict(l=0, r=0, t=0, b=0), paper_bgcolor="white",
                  plot_bgcolor="white", shapes=shapes, annotations=annots, showlegend=False,
                  font=dict(family=SANS))
fig.write_html("out.html", config={"displayModeBar": False},
               post_script="document.body.style.margin='0px';document.body.style.overflow='hidden';")
